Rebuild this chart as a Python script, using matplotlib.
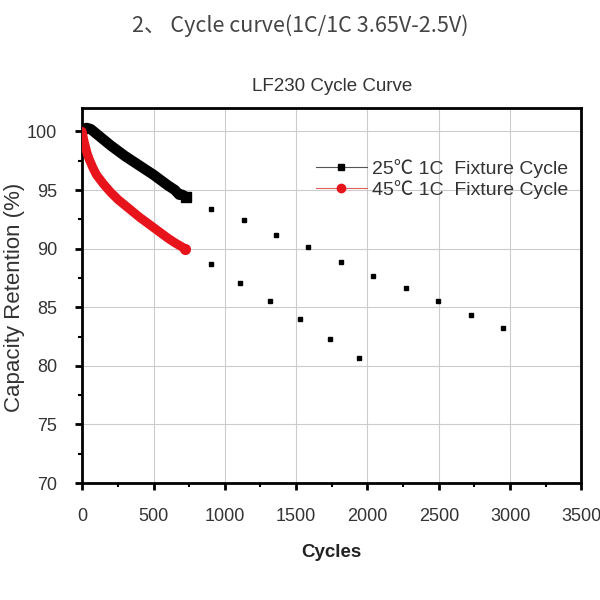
import matplotlib
matplotlib.use("Agg")
import matplotlib.pyplot as plt
from matplotlib.ticker import MultipleLocator

plt.rcParams['font.family'] = ['Liberation Sans', 'Noto Sans CJK SC', 'DejaVu Sans']

# 25°C measured curve
c25_x = [0, 15, 30, 60, 100, 150, 200, 250, 300, 350, 400, 450, 500, 550, 600, 650, 680, 700, 730]
c25_y = [99.9, 100.2, 100.3, 100.2, 99.8, 99.3, 98.8, 98.35, 97.9, 97.5, 97.1, 96.7, 96.3, 95.85, 95.4, 95.0, 94.6, 94.6, 94.4]
# 25°C sparse points
s25_x = [903, 1134, 1358, 1582, 1813, 2037, 2268, 2492, 2723, 2947]
s25_y = [93.4, 92.4, 91.2, 90.1, 88.9, 87.7, 86.6, 85.5, 84.3, 83.2]

# 45°C measured curve
c45_x = [0, 10, 20, 35, 50, 75, 100, 150, 200, 250, 300, 350, 400, 450, 500, 550, 600, 650, 720]
c45_y = [100.0, 99.3, 98.8, 98.1, 97.6, 96.9, 96.3, 95.5, 94.8, 94.2, 93.7, 93.2, 92.7, 92.25, 91.8, 91.35, 90.9, 90.5, 90.0]
# 45°C sparse points
s45_x = [903, 1106, 1316, 1526, 1736, 1939]
s45_y = [88.7, 87.1, 85.5, 84.0, 82.3, 80.7]

labels = ["25℃ 1C  Fixture Cycle", "45℃ 1C  Fixture Cycle"]

fig = plt.figure(figsize=(6, 6), dpi=100)
ax = fig.add_axes([0.137, 0.195, 0.832, 0.625])

ax.plot(c25_x, c25_y, color='black', lw=7.5, solid_capstyle='butt', zorder=3)
ax.plot(c25_x[-1:], c25_y[-1:], 's', color='black', ms=7, zorder=4)
ax.plot(c45_x, c45_y, color='#e8141c', lw=6.5, solid_capstyle='round', zorder=3)
ax.plot(c45_x[-1:], c45_y[-1:], 'o', color='#e8141c', ms=7, zorder=4)
ax.plot(s25_x, s25_y, 's', color='black', ms=3, ls='none', zorder=3)
ax.plot(s45_x, s45_y, 's', color='black', ms=3, ls='none', zorder=3)

# legend proxies
h1, = ax.plot([], [], color='#555555', lw=0.8, marker='s', ms=5, mfc='black', mec='black')
h2, = ax.plot([], [], color='#e06060', lw=0.8, marker='o', ms=6, mfc='#e8141c', mec='#e8141c')
leg = ax.legend([h1, h2], labels, loc='upper right', bbox_to_anchor=(1.0, 0.9),
                frameon=False, fontsize=14, handlelength=2.6, handletextpad=0.25,
                labelspacing=0.1, borderaxespad=0.3)
for t in leg.get_texts():
    t.set_color('#333333')

ax.set_xlim(0, 3500)
ax.set_ylim(70, 102)
ax.xaxis.set_major_locator(MultipleLocator(500))
ax.xaxis.set_minor_locator(MultipleLocator(250))
ax.yaxis.set_major_locator(MultipleLocator(5))
ax.yaxis.set_minor_locator(MultipleLocator(2.5))
ax.grid(True, which='major', color='#cccccc', lw=0.8)
ax.set_axisbelow(True)
for s in ax.spines.values():
    s.set_linewidth(2)
ax.tick_params(which='major', direction='out', length=5, width=2, labelsize=13,
               labelcolor='#333333')
ax.tick_params(axis='x', which='major', pad=13)
ax.tick_params(axis='y', which='major', pad=13)
ax.tick_params(which='minor', direction='out', length=3, width=1.5)

ax.set_xlabel('Cycles', fontsize=13.5, fontweight='bold', color='#222222', labelpad=14)
ax.set_title('LF230 Cycle Curve', fontsize=13.5, color='#333333', pad=12)

fig.text(15 / 600, 0.505, 'Capacity Retention (%)', rotation=90, ha='center', va='center',
         fontsize=16, color='#333333')

fig.text(0.5, 0.958, '2、 Cycle curve(1C/1C 3.65V-2.5V)', ha='center', va='center',
         fontsize=15.5, color='#444444', family=['Noto Sans CJK SC', 'DejaVu Sans'])

fig.savefig('out.png', dpi=100, facecolor='white')
